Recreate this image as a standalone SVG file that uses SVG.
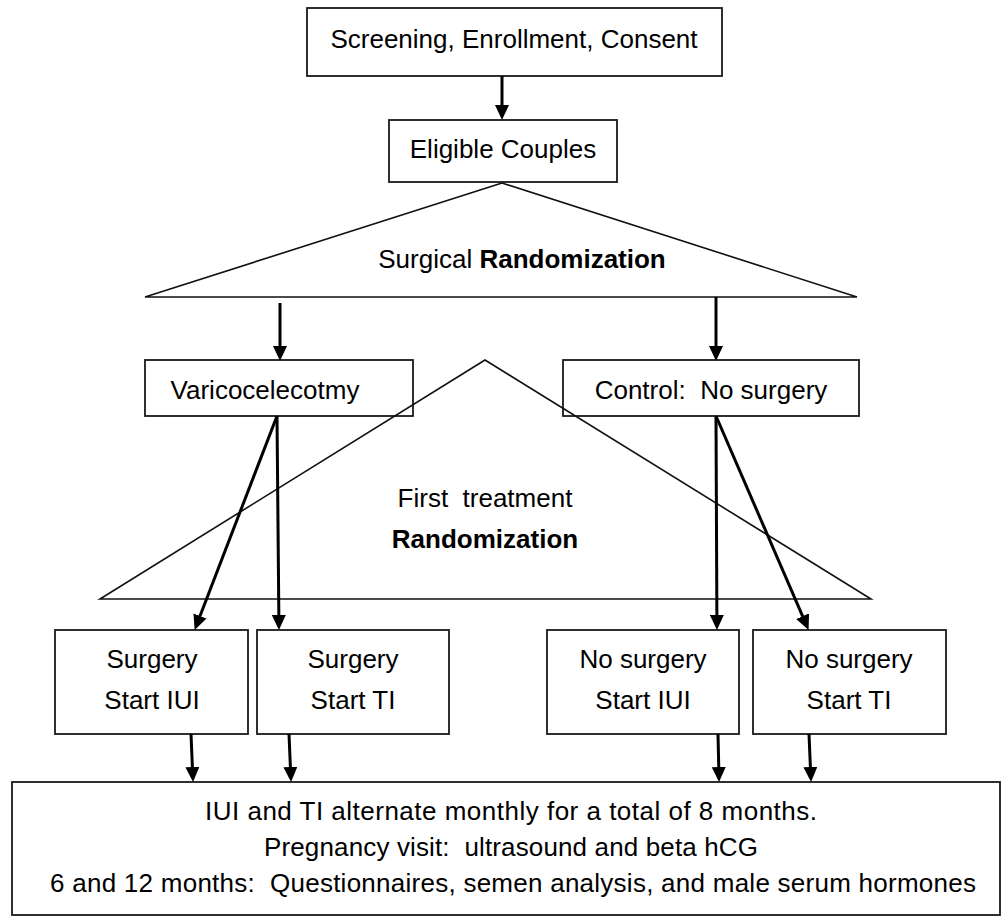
<svg xmlns="http://www.w3.org/2000/svg" width="1003" height="917" viewBox="0 0 1003 917">
<style>
  .box { fill: #fff; stroke: #1a1a1a; stroke-width: 1.8; }
  .tri { fill: none; stroke: #111; stroke-width: 1.6; stroke-linejoin: miter; }
  .lbl { font-family: "Liberation Sans", Arial, sans-serif; font-size: 26px; fill: #000; text-anchor: middle; }
  .b { font-weight: bold; }
  .con { fill: none; stroke: #000; stroke-width: 3; }
</style>
<defs>
  <marker id="ah" viewBox="0 0 15 14" refX="7" refY="7" markerWidth="15" markerHeight="14" markerUnits="userSpaceOnUse" orient="auto">
    <path d="M0,0 L15,7 L0,14 z" fill="#000"/>
  </marker>
</defs>
<rect width="1003" height="917" fill="#fff"/>

<g id="screening">
  <rect class="box" x="307" y="8" width="415" height="68"/>
  <text class="lbl" x="514" y="48">Screening, Enrollment, Consent</text>
</g>
<g id="eligible">
  <rect class="box" x="389" y="120" width="228" height="62"/>
  <text class="lbl" x="503" y="158">Eligible Couples</text>
</g>
<g id="surgical-randomization">
  <polygon class="tri" points="502,183 145,297 857,297"/>
  <text class="lbl" x="522" y="268">Surgical <tspan class="b">Randomization</tspan></text>
</g>
<g id="varicocelectomy">
  <rect class="box" x="145" y="360" width="268" height="56"/>
  <text class="lbl" x="265" y="399">Varicocelecotmy</text>
</g>
<g id="control">
  <rect class="box" x="563" y="360" width="296" height="56"/>
  <text class="lbl" x="711" y="399" xml:space="preserve">Control:  No surgery</text>
</g>
<g id="surgery-iui">
  <rect class="box" x="55" y="630" width="193" height="104"/>
  <text class="lbl" x="152" y="668">Surgery</text>
  <text class="lbl" x="152" y="709">Start IUI</text>
</g>
<g id="surgery-ti">
  <rect class="box" x="257" y="630" width="192" height="104"/>
  <text class="lbl" x="353" y="668">Surgery</text>
  <text class="lbl" x="353" y="709">Start TI</text>
</g>
<g id="nosurgery-iui">
  <rect class="box" x="547" y="630" width="192" height="104"/>
  <text class="lbl" x="643" y="668">No surgery</text>
  <text class="lbl" x="643" y="709">Start IUI</text>
</g>
<g id="nosurgery-ti">
  <rect class="box" x="753" y="630" width="193" height="104"/>
  <text class="lbl" x="849" y="668">No surgery</text>
  <text class="lbl" x="849" y="709">Start TI</text>
</g>
<g id="followup">
  <rect class="box" x="12" y="782" width="988" height="133"/>
  <text class="lbl" x="511" y="820" textLength="612" lengthAdjust="spacing">IUI and TI alternate monthly for a total of 8 months.</text>
  <text class="lbl" x="511" y="856" xml:space="preserve" textLength="494" lengthAdjust="spacing">Pregnancy visit:  ultrasound and beta hCG</text>
  <text class="lbl" x="513" y="892" xml:space="preserve" textLength="926" lengthAdjust="spacing">6 and 12 months:  Questionnaires, semen analysis, and male serum hormones</text>
</g>
<g id="first-treatment-randomization">
  <polygon class="tri" points="485,360 100,599 871,599"/>
  <text class="lbl" x="485" y="507" xml:space="preserve">First  treatment</text>
  <text class="lbl b" x="485" y="548">Randomization</text>
</g>

<g id="connectors">
  <line class="con" x1="502" y1="76" x2="502" y2="112" marker-end="url(#ah)"/>
  <line class="con" x1="280" y1="303" x2="280" y2="353" marker-end="url(#ah)"/>
  <line class="con" x1="716" y1="297" x2="716" y2="353" marker-end="url(#ah)"/>
  <line class="con" x1="277" y1="416" x2="197.5" y2="622.5" marker-end="url(#ah)"/>
  <line class="con" x1="277" y1="416" x2="278.9" y2="622" marker-end="url(#ah)"/>
  <line class="con" x1="716" y1="416" x2="716.9" y2="622" marker-end="url(#ah)"/>
  <line class="con" x1="716" y1="416" x2="805.4" y2="622.6" marker-end="url(#ah)"/>
  <line class="con" x1="191" y1="734" x2="192.7" y2="774" marker-end="url(#ah)"/>
  <line class="con" x1="289" y1="734" x2="290.7" y2="774" marker-end="url(#ah)"/>
  <line class="con" x1="718" y1="734" x2="718.9" y2="774" marker-end="url(#ah)"/>
  <line class="con" x1="809" y1="734" x2="810.7" y2="774" marker-end="url(#ah)"/>
</g>
</svg>
